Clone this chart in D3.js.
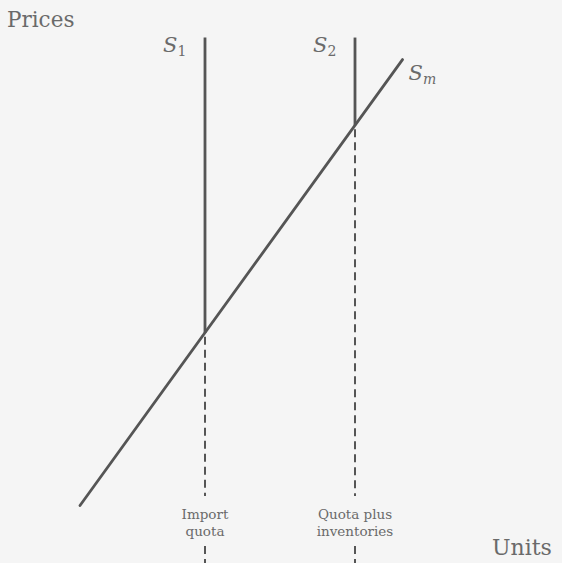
<!DOCTYPE html>
<html>
<head>
<meta charset="utf-8">
<script src="https://cdn.jsdelivr.net/npm/d3@7"></script>
<style>
  body { margin: 0; background: #f5f5f5; }
  svg { display: block; }
</style>
</head>
<body>
<svg id="chart" width="562" height="563"></svg>
<script>
// Chart values (units / prices in abstract diagram units)
const quotaLevels = [3.5, 6.5];                 // S1 = import quota, S2 = quota plus inventories
const supplyLabels = ["1", "2"];
const quotaLabels = [["Import", "quota"], ["Quota plus", "inventories"]];
const smUnits = [1.0, 7.45];                    // market supply line ends
const smPrices = [0.5, 9.6];
const topPrice = 10.05;

const svg = d3.select("#chart");
const width = +svg.attr("width");
const height = +svg.attr("height");

const ink = "#555";
const textInk = "#6a6a6a";
const serif = "'DejaVu Serif', 'Liberation Serif', serif";

// Scales
const x = d3.scaleLinear().domain([0, 10]).range([30, 530]);
const y = d3.scaleLinear().domain([0, 10]).range([530, 40]);

// price of Sm at a given quantity
const slope = (smPrices[1] - smPrices[0]) / (smUnits[1] - smUnits[0]);
const smAt = u => smPrices[0] + (u - smUnits[0]) * slope;

svg.append("rect")
    .attr("width", width)
    .attr("height", height)
    .attr("fill", "#f5f5f5");

// Market supply line
svg.append("line")
    .attr("x1", x(smUnits[0]))
    .attr("y1", y(smPrices[0]))
    .attr("x2", x(smUnits[1]))
    .attr("y2", y(smPrices[1]))
    .attr("stroke", ink)
    .attr("stroke-width", 2.8)
    .attr("stroke-linecap", "round");

const quota = svg.append("g")
    .selectAll("g")
    .data(quotaLevels)
    .join("g");

// Solid vertical supply above the intersection
quota.append("line")
    .attr("x1", d => x(d))
    .attr("x2", d => x(d))
    .attr("y1", y(topPrice))
    .attr("y2", d => y(smAt(d)))
    .attr("stroke", ink)
    .attr("stroke-width", 2.8);

// Dashed drop lines, broken around the labels
quota.append("line")
    .attr("x1", d => x(d))
    .attr("x2", d => x(d))
    .attr("y1", d => y(smAt(d)) + 4)
    .attr("y2", 496)
    .attr("stroke", ink)
    .attr("stroke-width", 2)
    .attr("stroke-dasharray", "8,5");

quota.append("line")
    .attr("x1", d => x(d))
    .attr("x2", d => x(d))
    .attr("y1", 546)
    .attr("y2", height)
    .attr("stroke", ink)
    .attr("stroke-width", 2)
    .attr("stroke-dasharray", "8,5");

// Quota labels
quota.append("text")
    .attr("x", d => x(d))
    .attr("y", 519)
    .attr("text-anchor", "middle")
    .attr("font-family", serif)
    .attr("font-size", "13.5px")
    .attr("fill", textInk)
    .selectAll("tspan")
    .data((d, i) => quotaLabels[i])
    .join("tspan")
    .attr("x", function () { return x(d3.select(this.parentNode).datum()); })
    .attr("dy", (d, i) => i === 0 ? 0 : 17)
    .text(d => d);

// S1, S2 labels
const sLabel = quota.append("text")
    .attr("x", d => x(d) - 42)
    .attr("y", 52)
    .attr("font-family", serif)
    .attr("fill", textInk);

sLabel.append("tspan")
    .attr("font-style", "italic")
    .attr("font-size", "21px")
    .text("S");

sLabel.append("tspan")
    .attr("font-size", "14px")
    .attr("dy", 4)
    .text((d, i) => supplyLabels[i]);

// Sm label
const smLabel = svg.append("text")
    .attr("x", x(smUnits[1]) + 6)
    .attr("y", 80)
    .attr("font-family", serif)
    .attr("fill", textInk);

smLabel.append("tspan")
    .attr("font-style", "italic")
    .attr("font-size", "21px")
    .text("S");

smLabel.append("tspan")
    .attr("font-style", "italic")
    .attr("font-size", "14px")
    .attr("dy", 4)
    .text("m");

// Axis titles
svg.append("text")
    .attr("x", 7)
    .attr("y", 27)
    .attr("font-family", serif)
    .attr("font-size", "21.5px")
    .attr("fill", textInk)
    .text("Prices");

svg.append("text")
    .attr("x", 492)
    .attr("y", 555)
    .attr("font-family", serif)
    .attr("font-size", "22px")
    .attr("fill", textInk)
    .text("Units");
</script>
</body>
</html>
